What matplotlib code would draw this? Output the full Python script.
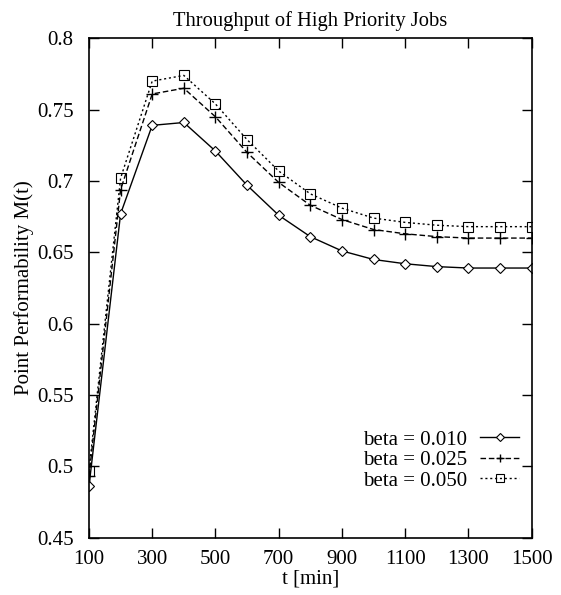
import matplotlib
matplotlib.use("Agg")
import matplotlib.pyplot as plt

plt.rcParams['font.family'] = ['Liberation Serif', 'DejaVu Serif']
plt.rcParams['mathtext.fontset'] = 'stix'

t = [100, 200, 300, 400, 500, 600, 700, 800, 900, 1000, 1100, 1200, 1300, 1400, 1500]
beta_010 = [0.486, 0.677, 0.739, 0.741, 0.721, 0.697, 0.676, 0.661, 0.651, 0.645, 0.642, 0.640, 0.639, 0.639, 0.639]
beta_025 = [0.493, 0.694, 0.761, 0.765, 0.745, 0.720, 0.699, 0.683, 0.673, 0.666, 0.663, 0.661, 0.660, 0.660, 0.660]
beta_050 = [0.497, 0.702, 0.770, 0.774, 0.754, 0.729, 0.707, 0.691, 0.681, 0.674, 0.671, 0.669, 0.668, 0.668, 0.668]
labels = ["beta = 0.010", "beta = 0.025", "beta = 0.050"]
xticks = [100, 300, 500, 700, 900, 1100, 1300, 1500]
yticks = [0.45, 0.5, 0.55, 0.6, 0.65, 0.7, 0.75, 0.8]
ytick_labels = ["0.45", "0.5", "0.55", "0.6", "0.65", "0.7", "0.75", "0.8"]

fig = plt.figure(figsize=(5.61, 5.95), dpi=100)
ax = fig.add_axes([0.1586, 0.0963, 0.789, 0.8393])

ax.plot(t, beta_010, color='black', lw=1.0, ls='-', marker='D', ms=5,
        mfc='white', mec='black', mew=0.8, label=labels[0])
ax.plot(t, beta_025, color='black', lw=1.0, ls=(0, (4, 2)), marker='+', ms=8,
        mew=1.0, label=labels[1])
ax.plot(t, beta_050, color='black', lw=1.0, ls=(0, (1.5, 2)), marker='s', ms=7,
        mfc='none', mec='black', mew=0.8, label=labels[2])

ax.set_xlim(100, 1500)
ax.set_ylim(0.45, 0.8)
ax.set_xticks(xticks)
ax.set_xticklabels([str(v) for v in xticks])
ax.set_yticks(yticks)
ax.set_yticklabels(ytick_labels)
ax.tick_params(direction='in', top=True, right=True, length=7, width=1, labelsize=15)
ax.tick_params(axis='y', pad=11)
ax.tick_params(axis='x', pad=9)
for s in ax.spines.values():
    s.set_linewidth(1.2)

ax.set_xlabel("t [min]", fontsize=15, labelpad=0)
ax.set_ylabel("Point Performability M(t)", fontsize=15, labelpad=2)
ax.set_title("Throughput of High Priority Jobs", fontsize=14.8, pad=9)

leg = ax.legend(loc='lower right', bbox_to_anchor=(0.9715, 0.094), markerfirst=False,
                frameon=False, fontsize=15, handlelength=1.85, handletextpad=0.65,
                labelspacing=0.05, borderpad=0.0, borderaxespad=0.0, markerscale=0.75)

fig.savefig("out.png", dpi=100)
